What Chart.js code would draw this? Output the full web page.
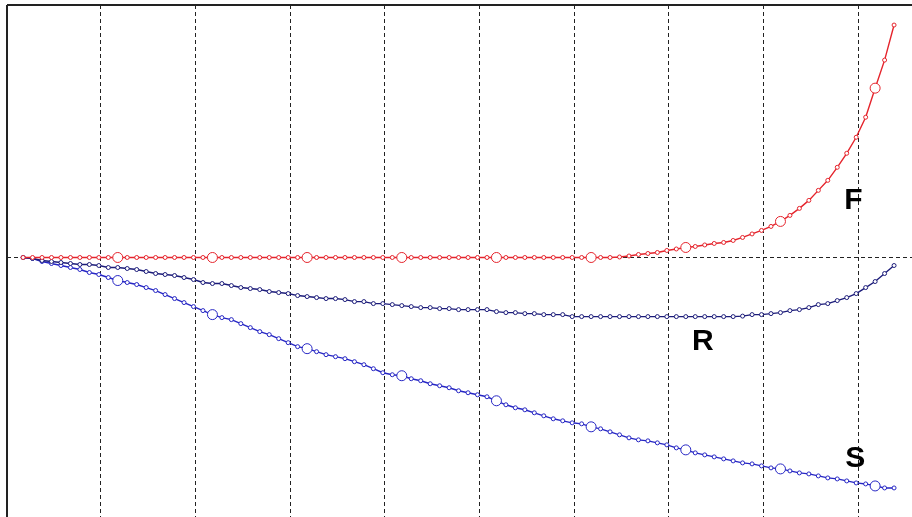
<!DOCTYPE html>
<html>
<head>
<meta charset="utf-8">
<script src="https://cdn.jsdelivr.net/npm/chart.js@4"></script>
<style>
	body { margin: 0; background: #fff; overflow: hidden; }
	canvas { display: block; }
</style>
</head>
<body>
<canvas id="curves" width="918" height="523"></canvas>
<script>
// sample grid: 93 samples, first at 0.18, step 0.1 (grid lines at whole units)
const xStart = 0.18;
const xStep = 0.1;
const gridX = [1, 2, 3, 4, 5, 6, 7, 8, 9];
const bigMarkerIdx = [10, 20, 30, 40, 50, 60, 70, 80, 90];

const fValues = [
	0, 0, 0, 0, 0, 0, 0, 0, 0, 0,
	0, 0, 0, 0, 0, 0, 0, 0, 0, 0,
	0, 0, 0, 0, 0, 0, 0, 0, 0, 0,
	0, 0, 0, 0, 0, 0, 0, 0, 0, 0,
	0, 0, 0, 0, 0, 0, 0, 0, 0, 0,
	0, 0, 0, 0, 0, 0, 0, 0, 0, 0,
	0, 0, 0, 0.5, 1.5, 3, 4, 5, 7, 8.5,
	10, 11, 12.5, 14, 15, 17, 20, 23.5, 27, 31,
	36, 42, 49, 57, 67, 77, 90, 104, 120, 140,
	169, 197, 232
];
const rValues = [
	0, -1, -3, -4, -5, -6, -7, -7, -8, -10,
	-10, -11, -12, -14, -16, -17, -18, -20, -22, -25,
	-26, -26, -28, -30, -31, -32, -34, -35, -36, -38,
	-39, -40, -41, -41, -42, -44, -44, -46, -46, -47,
	-48, -49, -50, -50, -51, -51, -52, -52, -52, -52,
	-54, -55, -55, -56, -56, -57, -57, -57, -59, -59,
	-59, -59, -59, -59, -59, -59, -59, -59, -59, -59,
	-59, -59, -59, -59, -59, -59, -58.5, -57, -57, -56,
	-55, -53, -52, -50, -47, -46, -43, -40, -36, -30,
	-24, -16, -8
];
const sValues = [
	0, -1, -4, -6, -8, -10, -12, -15, -17, -20,
	-23, -25, -27, -30, -33, -37, -41, -45, -49, -53,
	-57, -60, -62, -66, -70, -74, -77, -81, -85, -89,
	-91, -94, -97, -99, -101, -104, -107, -111, -115, -117,
	-118, -121, -123, -126, -128, -130, -133, -135, -137, -139,
	-143, -147, -150, -152, -155, -158, -161, -163, -165, -166,
	-169, -171, -174, -177, -180, -182, -183, -185, -187, -190,
	-192, -195, -197, -199, -201, -203, -205, -206, -208, -210,
	-211, -213, -215, -216, -218, -220, -221, -223, -225, -226,
	-228, -230, -230
];

// curve labels, in data units
const curveLabels = [
	{ text: 'F', x: 8.95, y: 57 },
	{ text: 'R', x: 7.36, y: -84 },
	{ text: 'S', x: 8.97, y: -201 }
];

document.addEventListener('DOMContentLoaded', () => {
	function toPoints(values) {
		return values.map((v, i) => ({ x: xStart + i * xStep, y: v }));
	}

	function markerSizes(values, big) {
		return values.map((v, i) => (big && bigMarkerIdx.includes(i)) ? 5 : 2);
	}

	function makeSet(label, values, color, big) {
		return {
			label: label,
			data: toPoints(values),
			borderColor: color,
			borderWidth: 1.4,
			pointBorderColor: color,
			pointBackgroundColor: '#fff',
			pointBorderWidth: 1,
			pointRadius: markerSizes(values, big),
			tension: 0
		};
	}

	const framePlugin = {
		id: 'frame',
		afterDraw(chart) {
			const ctx = chart.ctx;
			const area = chart.chartArea;
			ctx.save();
			ctx.strokeStyle = '#222';
			ctx.lineWidth = 2;
			ctx.beginPath();
			ctx.moveTo(area.left, area.top);
			ctx.lineTo(area.right, area.top);
			ctx.moveTo(area.left, area.top);
			ctx.lineTo(area.left, area.bottom);
			ctx.stroke();

			ctx.fillStyle = '#000';
			ctx.font = 'bold 30px "Liberation Sans", Arial, sans-serif';
			ctx.textAlign = 'center';
			ctx.textBaseline = 'middle';
			curveLabels.forEach(l => {
				ctx.fillText(l.text, chart.scales.x.getPixelForValue(l.x), chart.scales.y.getPixelForValue(l.y));
			});
			ctx.restore();
		}
	};

	const dashedGrid = {
		color: '#222',
		lineWidth: 1,
		drawTicks: false
	};

	new Chart(document.getElementById('curves'), {
		type: 'line',
		data: {
			datasets: [
				makeSet('F', fValues, '#e5242c', true),
				makeSet('R', rValues, '#1c1c7a', false),
				makeSet('S', sValues, '#2626c4', true)
			]
		},
		options: {
			responsive: false,
			animation: false,
			layout: { padding: { left: 7, top: 5, right: 0, bottom: 0 } },
			plugins: { legend: { display: false }, tooltip: { enabled: false } },
			scales: {
				x: {
					type: 'linear',
					min: 0.01,
					max: 9.58,
					afterBuildTicks: s => { s.ticks = gridX.map(v => ({ value: v })); },
					ticks: { display: false },
					grid: dashedGrid,
					border: { display: false, dash: [4, 3] }
				},
				y: {
					min: -260,
					max: 252,
					afterBuildTicks: s => { s.ticks = [{ value: 0 }]; },
					ticks: { display: false },
					grid: dashedGrid,
					border: { display: false, dash: [4, 3] }
				}
			}
		},
		plugins: [framePlugin]
	});
});
</script>
</body>
</html>
